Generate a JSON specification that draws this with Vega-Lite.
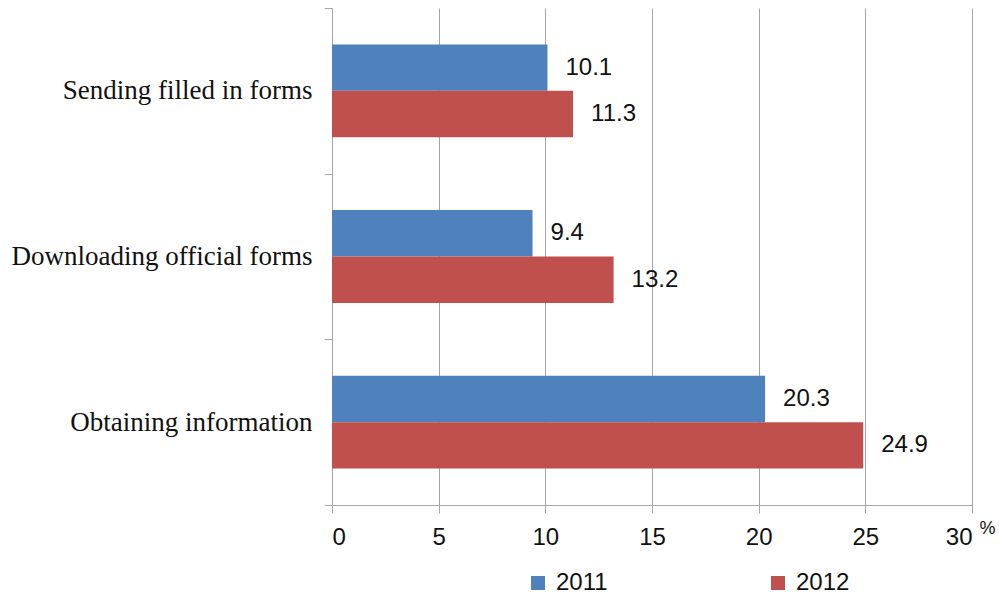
{
  "$schema": "https://vega.github.io/schema/vega-lite/v6.json",
  "width": 640,
  "height": 497,
  "autosize": {"type": "none"},
  "padding": {"left": 332, "top": 8, "right": 27, "bottom": 95},
  "background": "white",
  "data": {
    "values": [
      {"category": "Sending filled in forms", "year": "2011", "value": 10.1},
      {"category": "Sending filled in forms", "year": "2012", "value": 11.3},
      {"category": "Downloading official forms", "year": "2011", "value": 9.4},
      {"category": "Downloading official forms", "year": "2012", "value": 13.2},
      {"category": "Obtaining information", "year": "2011", "value": 20.3},
      {"category": "Obtaining information", "year": "2012", "value": 24.9}
    ]
  },
  "encoding": {
    "y": {
      "field": "category",
      "type": "nominal",
      "sort": ["Sending filled in forms", "Downloading official forms", "Obtaining information"],
      "scale": {"paddingInner": 0, "paddingOuter": 0},
      "axis": {
        "title": null,
        "grid": false,
        "domainColor": "#a6a6a6",
        "tickColor": "#a6a6a6",
        "tickBand": "extent",
        "tickSize": 8,
        "labelPadding": 12,
        "labelFont": "Liberation Serif",
        "labelFontSize": 27,
        "labelColor": "#111111",
        "labelLimit": 400
      }
    },
    "yOffset": {"field": "year", "type": "nominal", "sort": ["2011", "2012"], "scale": {"paddingInner": 0, "paddingOuter": 0.785}},
    "x": {
      "field": "value",
      "type": "quantitative",
      "scale": {"domain": [0, 30], "nice": false},
      "axis": {
        "values": [0, 5, 10, 15, 20, 25, 30],
        "grid": true,
        "gridColor": "#a6a6a6",
        "domainColor": "#a6a6a6",
        "tickColor": "#a6a6a6",
        "tickSize": 8,
        "labelPadding": 12,
        "labelFont": "Liberation Sans",
        "labelFontSize": 24,
        "labelColor": "#111111",
        "title": "%",
        "titleFont": "Liberation Sans",
        "titleFontSize": 18,
        "titleFontWeight": "normal",
        "titleColor": "#111111",
        "titleX": 655,
        "titleY": 23,
        "titleAlign": "center",
        "titleBaseline": "middle"
      }
    }
  },
  "layer": [
    {
      "mark": {"type": "bar"},
      "encoding": {
        "color": {
          "field": "year",
          "type": "nominal",
          "scale": {"domain": ["2011", "2012"], "range": ["#4F81BD", "#C0504D"]},
          "legend": {
            "title": null,
            "orient": "none",
            "legendX": 194,
            "legendY": 563,
            "direction": "horizontal",
            "columns": 2,
            "columnPadding": 158,
            "symbolType": "square",
            "symbolSize": 196,
            "symbolStrokeWidth": 0,
            "labelFont": "Liberation Sans",
            "labelFontSize": 24,
            "labelColor": "#111111",
            "labelOffset": 6
          }
        }
      }
    },
    {
      "mark": {"type": "text", "align": "left", "dx": 18, "baseline": "middle", "font": "Liberation Sans", "fontSize": 24, "color": "#111111"},
      "encoding": {
        "text": {"field": "value", "type": "quantitative", "format": ".1f"}
      }
    }
  ],
  "config": {"view": {"stroke": null}}
}
